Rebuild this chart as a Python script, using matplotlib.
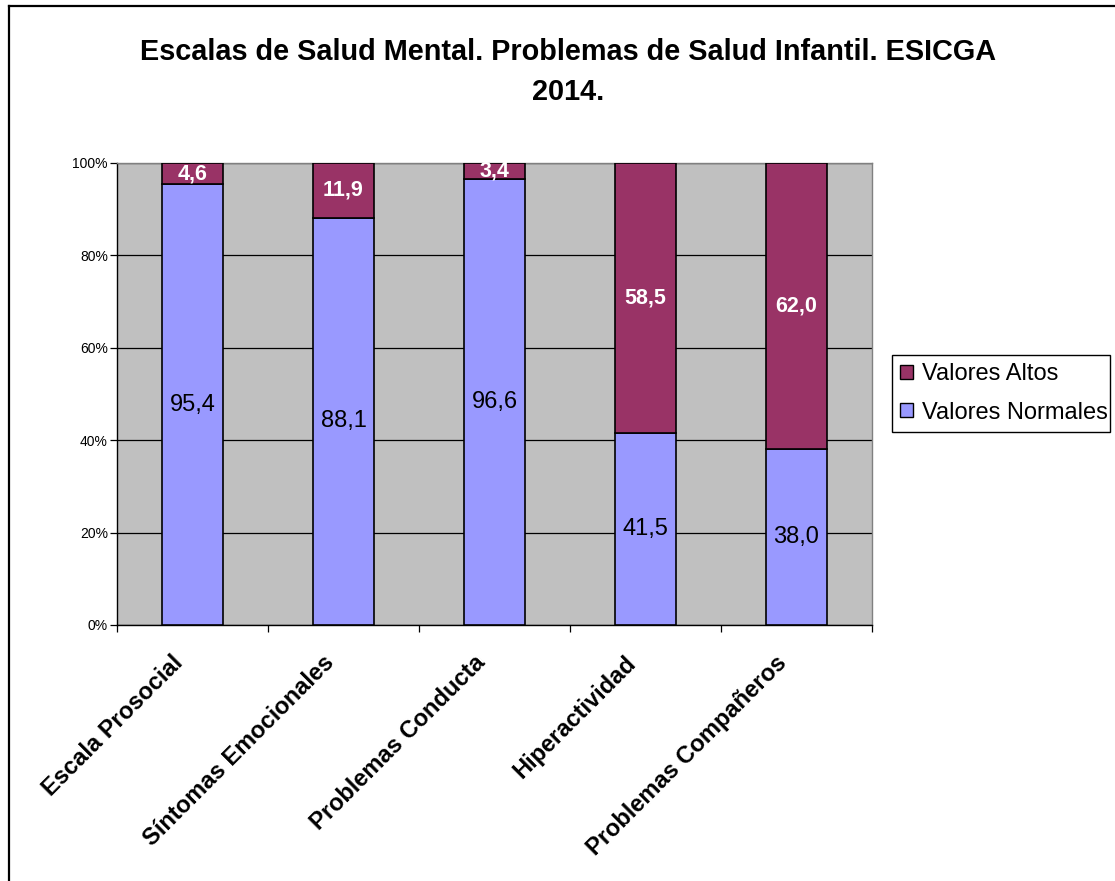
import matplotlib
matplotlib.use("Agg")
import matplotlib.pyplot as plt
from matplotlib.lines import Line2D
from matplotlib.patches import Patch, Rectangle
import numpy as np

plt.rcParams['font.family'] = ['Liberation Sans', 'DejaVu Sans']

categorias = ["Escala Prosocial", "Síntomas Emocionales", "Problemas Conducta",
              "Hiperactividad", "Problemas Compañeros"]
normales = [95.4, 88.1, 96.6, 41.5, 38.0]
altos = [4.6, 11.9, 3.4, 58.5, 62.0]
etiq_normales = ["95,4", "88,1", "96,6", "41,5", "38,0"]
etiq_altos = ["4,6", "11,9", "3,4", "58,5", "62,0"]
yticks = [0, 20, 40, 60, 80, 100]

azul = '#9999FF'
granate = '#993366'

fig = plt.figure(figsize=(11.15, 8.81), dpi=100)
ax = fig.add_axes([117/1115, 1 - 625/881, 755/1115, 462/881])
ax.set_facecolor('#C0C0C0')

x = np.arange(len(categorias)) + 0.5
w = 0.41
ax.bar(x, normales, w, color=azul, edgecolor='black', linewidth=1.2, zorder=3)
ax.bar(x, altos, w, bottom=normales, color=granate, edgecolor='black',
       linewidth=1.2, zorder=3)

for xi, n, a, tn, ta in zip(x, normales, altos, etiq_normales, etiq_altos):
    ax.text(xi, n / 2, tn, ha='center', va='center', fontsize=17, color='black', zorder=4)
    ax.text(xi, n + a / 2, ta, ha='center', va='center', fontsize=15.5,
            color='white', fontweight='bold', zorder=4)

ax.set_xlim(0, len(categorias))
ax.set_ylim(0, 100)
ax.set_yticks(yticks)
ax.set_yticklabels([f"{v}%" for v in yticks], fontsize=10)
ax.yaxis.grid(True, color='black', linewidth=0.9, zorder=1)

# etiquetas del eje x: ticks menores sin marca, desplazados un poco a la izquierda
ax.set_xticks(np.arange(len(categorias) + 1))
ax.set_xticklabels([])
ax.set_xticks(x - 0.14, minor=True)
ax.set_xticklabels(categorias, minor=True, rotation=45, ha='right',
                   rotation_mode='anchor', fontsize=17, fontweight='bold')
ax.tick_params(axis='x', which='minor', length=0, pad=19)
ax.tick_params(axis='x', which='major', length=5, width=0.9, color='black')
ax.tick_params(axis='y', length=5, width=0.9, color='black', pad=1.5)

for s in ['top', 'right']:
    ax.spines[s].set_color('#808080')
    ax.spines[s].set_linewidth(1.0)
for s in ['left', 'bottom']:
    ax.spines[s].set_color('black')
    ax.spines[s].set_linewidth(1.0)

# leyenda: caja dibujada aparte para ajustarla como en el original
fig.add_artist(Rectangle((892/1115, 1 - 432/881), 218/1115, 77/881,
                         transform=fig.transFigure, facecolor='white',
                         edgecolor='black', linewidth=1.0))
handles = [Patch(facecolor=granate, edgecolor='black', label='Valores Altos'),
           Patch(facecolor=azul, edgecolor='black', label='Valores Normales')]
leg = fig.legend(handles=handles, loc='center left',
                 bbox_to_anchor=(892/1115, 1 - 393.5/881), fontsize=17,
                 frameon=False, handlelength=0.55, handleheight=0.55,
                 handletextpad=0.35, borderpad=0.35, labelspacing=0.68,
                 borderaxespad=0)

fig.text(568/1115, 1 - 72/881,
         "Escalas de Salud Mental. Problemas de Salud Infantil. ESICGA\n2014.",
         ha='center', va='center', fontsize=20.8, fontweight='bold', linespacing=1.55)

fig.add_artist(Line2D([9/1115, 1], [1 - 5.5/881, 1 - 5.5/881], color='black',
                      linewidth=1.6, transform=fig.transFigure))
fig.add_artist(Line2D([9/1115, 9/1115], [0, 1 - 5.5/881], color='black',
                      linewidth=1.6, transform=fig.transFigure))

fig.savefig("out.png", dpi=100)
